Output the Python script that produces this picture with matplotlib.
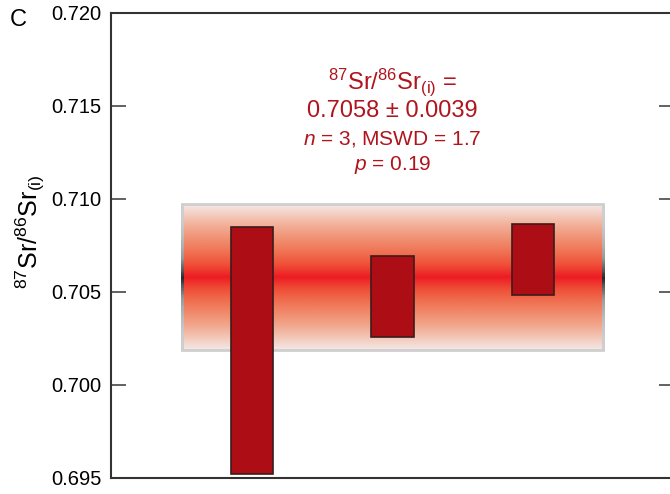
import numpy as np
import matplotlib
matplotlib.use('Agg')
import matplotlib.pyplot as plt
from matplotlib.colors import LinearSegmentedColormap
from matplotlib.patches import Rectangle
from matplotlib.collections import LineCollection

plt.rcParams['font.family'] = ['Liberation Sans', 'DejaVu Sans']
plt.rcParams['mathtext.fontset'] = 'custom'
plt.rcParams['mathtext.rm'] = 'Liberation Sans'
plt.rcParams['mathtext.it'] = 'Liberation Sans:italic'

#sample analyses (2 sigma ranges)
samples = [1, 2, 3]
sr_low = [0.69520, 0.70256, 0.70484]
sr_high = [0.70846, 0.70692, 0.70866]

#weighted mean
mean_val = 0.7058
mean_err = 0.0039
n_val = 3
mswd = 1.7
p_val = 0.19

yticks = [0.695, 0.700, 0.705, 0.710, 0.715, 0.720]

red_txt = '#b0141c'

fig = plt.figure(figsize=[6.7, 4.94], dpi=100)
ax = fig.add_axes([0.1664, 0.0324, 0.839, 0.9419])
ax.set_xlim(0, 4)
ax.set_ylim(0.695, 0.720)

#mean band with red gradient
cmap = LinearSegmentedColormap.from_list('band', [
    (0.0, '#f4e8e6'), (0.15, '#f3cbbd'), (0.3, '#f2ad95'), (0.5, '#f08c6e'),
    (0.7, '#f06a4c'), (0.85, '#ef4a35'), (1.0, '#ed1c24')])
t = np.linspace(-1, 1, 300)
grad = (1 - np.abs(t))[:, None]
lo, hi = mean_val - mean_err, mean_val + mean_err
ax.imshow(grad, cmap=cmap, vmin=0, vmax=1, aspect='auto',
          extent=[0.5, 3.5, lo, hi], origin='lower', zorder=1, interpolation='bilinear')
ax.add_patch(Rectangle((0.5, lo), 3.0, 2 * mean_err,
                       fill=False, edgecolor='#cfcfcf', linewidth=2, zorder=2))

#side edges darken toward the mean
greys = LinearSegmentedColormap.from_list('edge', ['#cfcfcf', '#9a9a9a', '#2a2a2a'])
yy = np.linspace(lo, hi, 80)
w = 1 - np.abs(np.linspace(-1, 1, 79))
for xe in [0.5, 3.5]:
    segs = [[(xe, yy[i]), (xe, yy[i + 1])] for i in range(len(yy) - 1)]
    ax.add_collection(LineCollection(segs, colors=greys(w ** 2), linewidths=2,
                                     capstyle='butt', antialiaseds=False, zorder=2))

#sample boxes
heights = np.array(sr_high) - np.array(sr_low)
ax.bar(samples, heights, bottom=sr_low, width=0.3, color='#ad0e16',
       edgecolor='#3a1c1c', linewidth=1.2, zorder=3)

ax.set_yticks(yticks)
ax.set_yticklabels([f'{v:.3f}' for v in yticks])
ax.set_xticks([])
ax.tick_params(axis='y', direction='in', length=11, width=1.3, color='#555555',
               labelsize=14.5, pad=7, right=True)
for s in ['left', 'top', 'bottom', 'right']:
    ax.spines[s].set_color('#333333')
    ax.spines[s].set_linewidth(1.5)

#annotation
tr = ax.get_xaxis_transform()
ax.text(2, 0.836, r'$^{87}$Sr/$^{86}$Sr$_{\rm (i)}$ =', transform=tr,
        ha='center', va='baseline', fontsize=17, color=red_txt)
ax.text(2, 0.775, f'{mean_val:.4f} \u00b1 {mean_err:.4f}', transform=tr,
        ha='center', va='baseline', fontsize=17, color=red_txt)
ax.text(2, 0.7157, f'$n$ = {n_val}, MSWD = {mswd}', transform=tr,
        ha='center', va='baseline', fontsize=15, color=red_txt)
ax.text(2, 0.662, f'$p$ = {p_val}', transform=tr,
        ha='center', va='baseline', fontsize=15, color=red_txt)

fig.text(30 / 670, 1 - 232 / 494, r'$^{87}$Sr/$^{86}$Sr$_{\rm (i)}$', rotation=90,
         ha='center', va='center', fontsize=18)
fig.text(18.3 / 670, 1 - 20.3 / 494, 'C', ha='center', va='center', fontsize=17)

plt.savefig('out.png', dpi=100)
